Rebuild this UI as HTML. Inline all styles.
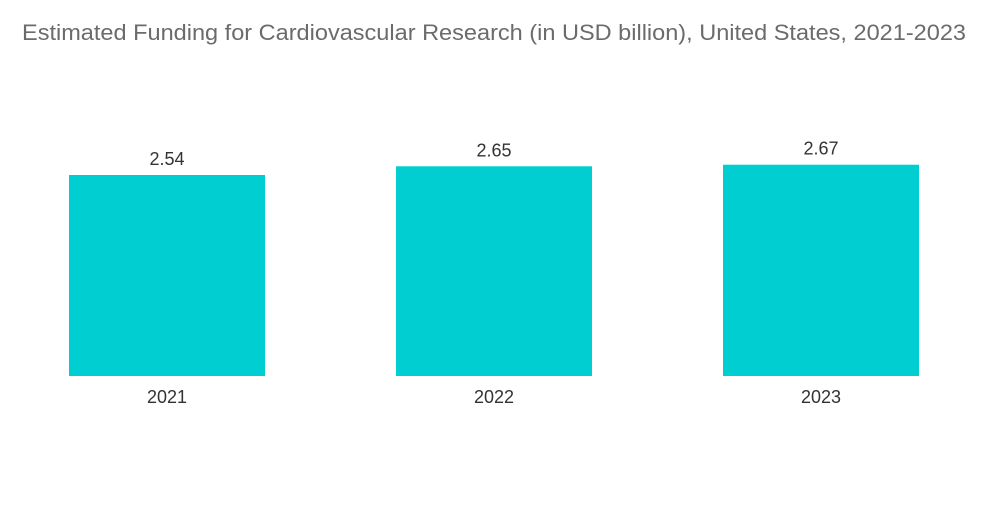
<!DOCTYPE html>
<html><head><meta charset="utf-8"><style>
body{margin:0;background:#fff;width:1000px;height:504px;overflow:hidden;font-family:"Liberation Sans",sans-serif}
</style></head><body>
<svg width="1000" height="504">
<text x="22" y="40" textLength="944" lengthAdjust="spacingAndGlyphs" font-size="22" fill="#6b6b6b">Estimated Funding for Cardiovascular Research (in USD billion), United States, 2021-2023</text>
<g id="bars"></g>
</svg>
<script>
const categories=["2021","2022","2023"];
const values=[2.54,2.65,2.67];
const labels=["2.54","2.65","2.67"];
const svg=document.getElementById('bars');
const base=376, scale=201/2.54, bw=196, step=327, x0=69;
function xPos(i){return x0+i*step;}
function yPos(v){return base-v*scale;}
const ns="http://www.w3.org/2000/svg";
categories.forEach((c,i)=>{
 const r=document.createElementNS(ns,'rect');
 r.setAttribute('x',xPos(i));r.setAttribute('y',yPos(values[i]));
 r.setAttribute('width',bw);r.setAttribute('height',base-yPos(values[i]));
 r.setAttribute('fill','#00ced1');
 
 
 svg.appendChild(r);
 const t=document.createElementNS(ns,'text');
 t.setAttribute('x',xPos(i)+bw/2);t.setAttribute('y',yPos(values[i])-10);
 t.setAttribute('text-anchor','middle');t.setAttribute('font-size','18');t.setAttribute('fill','#333');
 t.textContent=labels[i];
 
 
 svg.appendChild(t);
 const a=document.createElementNS(ns,'text');
 a.setAttribute('x',xPos(i)+bw/2);a.setAttribute('y',403);
 a.setAttribute('text-anchor','middle');a.setAttribute('font-size','18');a.setAttribute('fill','#333');
 a.textContent=c;
 
 
 svg.appendChild(a);
});
</script>
</body></html>
